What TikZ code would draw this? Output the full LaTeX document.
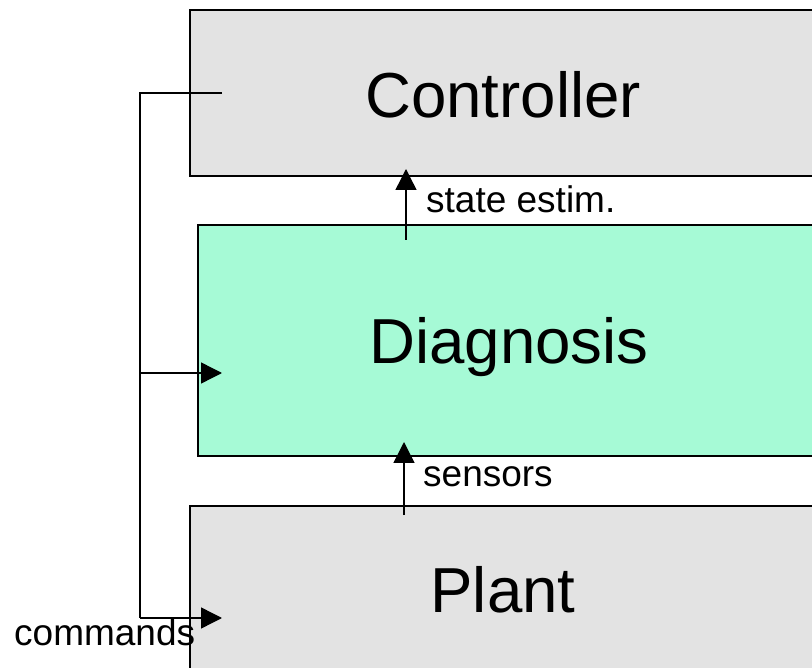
\documentclass[tikz,border=0pt]{standalone}
\usepackage{fontspec}
\setmainfont{Liberation Sans}
\usetikzlibrary{arrows.meta}
\definecolor{blockgray}{HTML}{E3E3E3}
\definecolor{diaggreen}{HTML}{A6FAD6}
\tikzset{
  block/.style={draw=black, line width=1.6pt, anchor=north west, inner sep=0pt},
  bigtext/.style={font=\fontsize{63.6}{75}\selectfont, anchor=base, inner sep=0pt},
  smalltext/.style={font=\fontsize{37}{43}\selectfont, anchor=base west, inner sep=0pt},
  wire/.style={line width=1.4pt},
  flow/.style={wire, -{Triangle[length=21pt,width=21pt]}}
}
\begin{document}
\begin{tikzpicture}[x=1pt, y=-1pt]
\useasboundingbox (0,0) rectangle (812,668);
\clip (0,0) rectangle (812,668);
% blocks (they run past the right edge)
\node[block, fill=blockgray, minimum width=660pt, minimum height=166pt] (ctrl) at (189,9) {};
\node[block, fill=diaggreen, minimum width=660pt, minimum height=231pt] (diag) at (197,224) {};
\node[block, fill=blockgray, minimum width=660pt, minimum height=200pt] (plant) at (189,505) {};
% block titles
\node[bigtext] (ctrlT) at (503,118) {Controller};
\node[bigtext] (diagT) at (509,364) {Diagnosis};
\node[bigtext] (plantT) at (503,612) {Plant};
% signal labels
\node[smalltext] (seL) at (426,213) {state estim.};
\node[smalltext] (snL) at (423,486) {sensors};
\node[smalltext] (cmL) at (14,645) {commands};
% connector end points
\coordinate (cmdOut) at (222,93);
\coordinate (busTop) at (140,93);
\coordinate (busMid) at (140,373);
\coordinate (busBot) at (140,618);
\coordinate (diagIn) at (222,373);
\coordinate (plantIn) at (222,618);
\coordinate (seFrom) at (406,240);
\coordinate (seTo) at (406,169);
\coordinate (snFrom) at (404,515);
\coordinate (snTo) at (404,442);
% command feedback bus
\draw[wire] (cmdOut) -- (busTop) -- (busBot);
\draw[flow] (busBot) -- (plantIn);
\draw[flow] (busMid) -- (diagIn);
% upward signals
\draw[flow] (seFrom) -- (seTo);
\draw[flow] (snFrom) -- (snTo);
\end{tikzpicture}
\end{document}
